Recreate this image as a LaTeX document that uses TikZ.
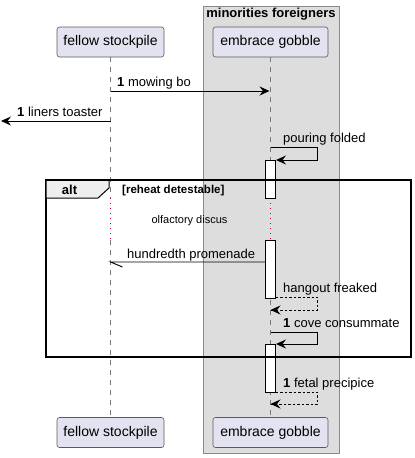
\documentclass[tikz,border=0pt]{standalone}
\usepackage{fontspec}
\setmainfont{Liberation Sans}
\usetikzlibrary{arrows.meta,calc}
\definecolor{partfill}{HTML}{E2E2F0}
\definecolor{partline}{HTML}{5A5A5A}
\definecolor{boxfill}{HTML}{DDDDDD}
\definecolor{boxline}{HTML}{8A8A8A}
\definecolor{tabfill}{HTML}{EEEEEE}
\definecolor{delayred}{HTML}{CC0044}
\definecolor{lifegray}{HTML}{7A7A7A}
\begin{document}
\begin{tikzpicture}[x=1pt,y=-1pt,
  part/.style={draw=partline, line width=0.6pt, fill=partfill, rounded corners=2.5pt,
    minimum height=30pt, inner sep=0pt, font=\fontsize{14}{16}\selectfont},
  lifeline/.style={draw=lifegray, line width=0.6pt, dash pattern=on 5pt off 5pt},
  delayline/.style={draw=delayred, line width=0.9pt, dash pattern=on 1pt off 4pt},
  actbox/.style={draw=black, fill=white, line width=0.8pt},
  msg/.style={draw=black, line width=0.9pt},
  tip/.style={-{Stealth[length=10pt,width=9pt,inset=3.5pt]}},
  ret/.style={msg, dash pattern=on 2.5pt off 2pt},
  lbl/.style={anchor=base west, inner sep=0pt, font=\fontsize{13}{15}\selectfont},
]
\useasboundingbox (0,0) rectangle (415,458);
% participant group box
\filldraw[fill=boxfill, draw=boxline, line width=0.8pt] (203,6) rectangle (339,453);
\node[anchor=base, inner sep=0pt, font=\fontsize{13}{15}\selectfont\bfseries] (boxtitle) at (271,17) {minorities foreigners};
% participants
\node[part, minimum width=107pt] (fT) at (110.5,42) {fellow stockpile};
\node[part, minimum width=115pt] (eT) at (270.5,42) {embrace gobble};
\node[part, minimum width=107pt] (fB) at (110.5,432.5) {fellow stockpile};
\node[part, minimum width=115pt] (eB) at (270.5,432.5) {embrace gobble};
% lifeline coordinates
\coordinate (f1) at (110.5,198);
\coordinate (f2) at (110.5,240);
\coordinate (e1) at (270.5,198);
\coordinate (e2) at (270.5,240);
\draw[lifeline] (fT.south) -- (f1);
\draw[delayline] (f1) -- (f2);
\draw[lifeline] (f2) -- (fB.north);
\draw[lifeline] (eT.south) -- (e1);
\draw[delayline] (e1) -- (e2);
\draw[lifeline] (e2) -- (eB.north);
% message 1
\coordinate (m1a) at (110.5,91);
\coordinate (m1b) at (269.5,91);
\draw[msg,tip] (m1a) -- (m1b);
\node[lbl] (l1) at (117,86.5) {\textbf{1} mowing bo};
% message 2
\coordinate (m2a) at (110.5,121);
\coordinate (m2b) at (1,121);
\draw[msg,tip] (m2a) -- (m2b);
\node[lbl] (l2) at (17,116.5) {\textbf{1} liners toaster};
% activation 1 (drawn before frame)
\filldraw[actbox] (265.5,160) rectangle (275.5,198);
\filldraw[actbox] (265.5,240) rectangle (275.5,298);
% self message pouring folded
\coordinate (s1a) at (270.5,147);
\coordinate (s1b) at (317.5,147);
\coordinate (s1c) at (317.5,160);
\coordinate (s1d) at (276,160);
\draw[msg,tip] (s1a) -- (s1b) -- (s1c) -- (s1d);
\node[lbl] (l3) at (283,142) {pouring folded};
% delay text
\node[anchor=base, inner sep=0pt, font=\fontsize{11}{13}\selectfont] (delay) at (189.5,223.5) {olfactory discus};
% hundredth promenade
\coordinate (h1) at (265.5,262);
\coordinate (h2) at (110.5,262);
\coordinate (hb) at (122.5,267);
\draw[msg] (h1) -- (h2) -- (hb);
\node[lbl] (l4) at (127,258) {hundredth promenade};
% hangout freaked return
\coordinate (r1a) at (275.5,297);
\coordinate (r1b) at (317.5,297);
\coordinate (r1c) at (317.5,310);
\coordinate (r1d) at (270.5,310);
\draw[ret] (r1a) -- (r1b) -- (r1c) -- (r1d);
\draw[msg,tip] ($(r1d)+(0.1,0)$) -- (r1d);
\node[lbl] (l5) at (283,292) {hangout freaked};
% cove consummate
\coordinate (c1a) at (270.5,332);
\coordinate (c1b) at (317.5,332);
\coordinate (c1c) at (317.5,344);
\coordinate (c1d) at (276,344);
\filldraw[actbox] (265.5,344) rectangle (275.5,392);
\draw[msg,tip] (c1a) -- (c1b) -- (c1c) -- (c1d);
\node[lbl] (l6) at (283,327) {\textbf{1} cove consummate};
% alt frame
\draw[line width=1.5pt] (46,180) rectangle (411,357);
\filldraw[fill=tabfill, draw=black, line width=1pt] (46,180) -- (109,180) -- (109,188) -- (98,198) -- (46,198) -- cycle;
\draw[line width=1.5pt] (46,180) -- (411,180);
\node[anchor=base, inner sep=0pt, font=\fontsize{13}{15}\selectfont\bfseries] (altl) at (69.5,194.5) {alt};
\node[anchor=base west, inner sep=0pt, font=\fontsize{11.5}{13}\selectfont\bfseries] (guard) at (122,193) {[reheat detestable]};
% fetal precipice return
\coordinate (r2a) at (275.5,392);
\coordinate (r2b) at (317.5,392);
\coordinate (r2c) at (317.5,404);
\coordinate (r2d) at (270.5,404);
\draw[ret] (r2a) -- (r2b) -- (r2c) -- (r2d);
\draw[msg,tip] ($(r2d)+(0.1,0)$) -- (r2d);
\node[lbl] (l7) at (283,387) {\textbf{1} fetal precipice};
\end{tikzpicture}
\end{document}
